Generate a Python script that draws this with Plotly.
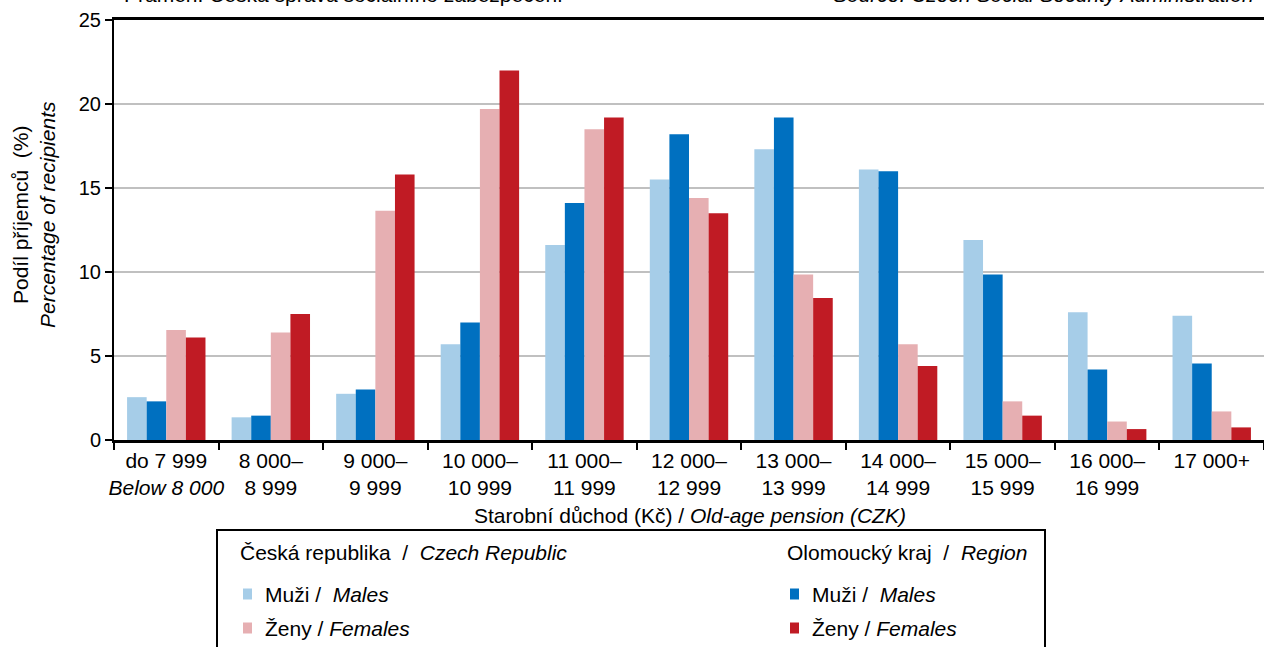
import plotly.graph_objects as go

categories = ["do 7 999<br><i>Below 8 000</i>", "8 000–<br>8 999", "9 000–<br>9 999",
              "10 000–<br>10 999", "11 000–<br>11 999", "12 000–<br>12 999",
              "13 000–<br>13 999", "14 000–<br>14 999", "15 000–<br>15 999",
              "16 000–<br>16 999", "17 000+"]
cr_males = [2.55, 1.35, 2.75, 5.7, 11.6, 15.5, 17.3, 16.1, 11.9, 7.6, 7.4]
reg_males = [2.3, 1.45, 3.0, 7.0, 14.1, 18.2, 19.2, 16.0, 9.85, 4.2, 4.55]
cr_females = [6.55, 6.4, 13.65, 19.7, 18.5, 14.4, 9.85, 5.7, 2.3, 1.1, 1.7]
reg_females = [6.1, 7.5, 15.8, 22.0, 19.2, 13.5, 8.45, 4.4, 1.45, 0.65, 0.75]

FONT = "Liberation Sans, Arial"
colors = {"cr_m": "#a6cde8", "reg_m": "#0070c0", "cr_f": "#e6afb2", "reg_f": "#c01b24"}

# plot area in pixels: x 114..1264, y 20..440
L, R, T, B = 114, 1264, 20, 440
def px(x):
    return (x - L) / (R - L)
def py(y):
    return (B - y) / (B - T)

fig = go.Figure()
for vals, key in [(cr_males, "cr_m"), (reg_males, "reg_m"),
                  (cr_females, "cr_f"), (reg_females, "reg_f")]:
    fig.add_trace(go.Bar(x=categories, y=vals, marker_color=colors[key],
                         marker_line_width=0, showlegend=False))

fig.update_layout(
    width=1264, height=647,
    margin=dict(l=L, r=1264 - R, t=T, b=647 - B),
    barmode="group", bargap=0.25, bargroupgap=0,
    plot_bgcolor="white", paper_bgcolor="white",
    font=dict(family=FONT, size=21, color="black"),
)
fig.update_xaxes(showline=True, linecolor="black", linewidth=2.5, mirror=True,
                 ticks="outside", tickson="boundaries", ticklen=7, tickwidth=2,
                 tickcolor="black", tickfont=dict(size=21), tickangle=0, automargin=False)
fig.update_yaxes(range=[0, 25], dtick=5, showline=True, linecolor="black", linewidth=2,
                 ticks="outside", ticklen=7, tickwidth=2, tickcolor="black",
                 showgrid=True, gridcolor="#c0c0c0", gridwidth=1.5,
                 tickfont=dict(size=20), zeroline=False, automargin=False)

ann = []
# axis titles
ann.append(dict(x=px(690), y=py(515), text="Starobní důchod (Kč) / <i>Old-age pension (CZK)</i>"))
ann.append(dict(x=px(34), y=py(215), text="Podíl příjemců  (%)<br><i>Percentage of recipients</i>",
                textangle=-90))
# source lines (cut off at top)
ann.append(dict(x=px(122), y=py(-5), xanchor="left",
                text="Pramen: Česká správa sociálního zabezpečení"))
ann.append(dict(x=px(1256), y=py(-5), xanchor="right",
                text="<i>Source: Czech Social Security Administration</i>"))

# legend (manual)
shapes = [dict(type="rect", xref="paper", yref="paper", x0=px(217), x1=px(1045),
               y0=py(530), y1=py(700), line=dict(color="black", width=2))]
legend_cols = [
    (238, "Česká republika  /  <i>Czech Republic</i>", [("cr_m", "Muži /  <i>Males</i>"), ("cr_f", "Ženy / <i>Females</i>")]),
    (785, "Olomoucký kraj  /  <i>Region</i>", [("reg_m", "Muži /  <i>Males</i>"), ("reg_f", "Ženy / <i>Females</i>")]),
]
for x0, head, items in legend_cols:
    ann.append(dict(x=px(x0), y=py(552), xanchor="left", text=head))
    for i, (key, label) in enumerate(items):
        yy = 594 + 34 * i
        shapes.append(dict(type="rect", xref="paper", yref="paper",
                           x0=px(x0 + 5), x1=px(x0 + 14), y0=py(yy + 5.5), y1=py(yy - 5.5),
                           fillcolor=colors[key], line=dict(width=0)))
        ann.append(dict(x=px(x0 + 25), y=py(yy), xanchor="left", text=label))

for a in ann:
    a.setdefault("xanchor", "center")
    a.update(xref="paper", yref="paper", yanchor="middle", showarrow=False,
             font=dict(size=21))
fig.update_layout(annotations=ann, shapes=shapes)

fig.write_html("out.html", config={"displayModeBar": False},
               post_script="document.body.style.margin='0';document.body.style.overflow='hidden';")
